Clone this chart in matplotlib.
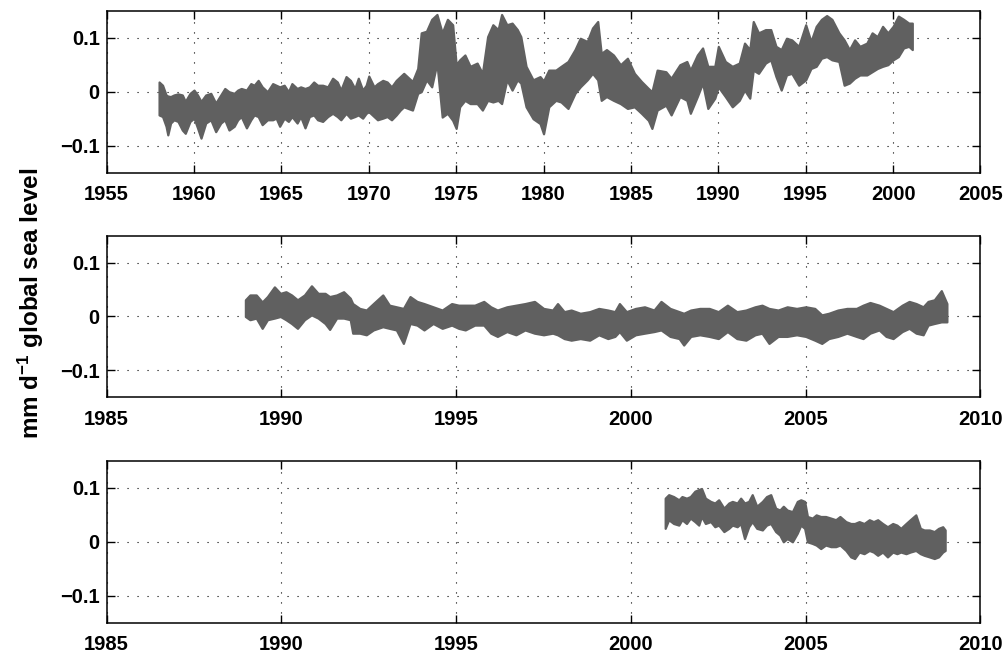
import matplotlib
matplotlib.use('Agg')
import matplotlib.pyplot as plt
from matplotlib.ticker import FixedLocator, FixedFormatter

plt.rcParams['font.family'] = ['Liberation Sans', 'DejaVu Sans']
plt.rcParams['font.weight'] = 'bold'
plt.rcParams['mathtext.fontset'] = 'custom'
plt.rcParams['mathtext.rm'] = 'Liberation Sans:bold'
plt.rcParams['mathtext.bf'] = 'Liberation Sans:bold'
plt.rcParams['mathtext.default'] = 'bf'

# ---------------- data (envelopes) ----------------
# Panel 1: 1958-2001
p1_year = [1958.0, 1958.2, 1958.4, 1958.5, 1958.66, 1958.85, 1959.08, 1959.33, 1959.5, 1959.77,
           1960.0, 1960.2, 1960.4, 1960.67, 1960.96, 1961.24, 1961.53, 1961.76, 1962.0, 1962.3,
           1962.5, 1962.7, 1963.0, 1963.25, 1963.44, 1963.67, 1963.9, 1964.2, 1964.5, 1964.7,
           1964.9, 1965.16, 1965.4, 1965.6, 1965.9, 1966.1, 1966.35, 1966.6, 1966.85, 1967.07,
           1967.36, 1967.65, 1967.93, 1968.2, 1968.4, 1968.7, 1968.95, 1969.2, 1969.4, 1969.65,
           1969.85, 1970.0, 1970.3, 1970.5, 1970.8, 1971.05, 1971.3, 1971.57, 1971.8,
           1972.0, 1972.5, 1972.8, 1973.0, 1973.3, 1973.6, 1973.9,
           1974.2, 1974.5, 1974.8, 1975.0, 1975.2, 1975.5, 1975.8, 1976.2, 1976.5, 1976.8,
           1977.1, 1977.4, 1977.6, 1977.9, 1978.2, 1978.5, 1978.7, 1979.0, 1979.4, 1979.8,
           1980.0, 1980.3, 1980.7, 1981.0, 1981.4, 1981.8, 1982.1, 1982.5, 1982.8, 1983.1,
           1983.3, 1983.6, 1984.0, 1984.4, 1984.8, 1985.2, 1985.6, 1986.0, 1986.2, 1986.5,
           1987.0, 1987.3, 1987.8, 1988.2, 1988.4, 1988.8, 1989.1, 1989.4, 1989.8, 1990.0,
           1990.4, 1990.8, 1991.2, 1991.5, 1991.8, 1992.0, 1992.3, 1992.7, 1993.0, 1993.3,
           1993.6, 1993.9, 1994.2, 1994.6, 1995.0, 1995.3, 1995.6, 1995.9, 1996.2, 1996.5,
           1996.9, 1997.2, 1997.5, 1997.8, 1998.1, 1998.5, 1998.8, 1999.1, 1999.4, 1999.7,
           2000.0, 2000.3, 2000.6, 2000.9, 2001.1]
p1_hi = [0.018, 0.012, -0.006, -0.008, -0.009, -0.006, -0.004, -0.006, -0.018, -0.003,
         0.003, -0.006, -0.018, -0.006, -0.003, -0.021, -0.006, 0.006, 0.000, -0.003,
         0.003, 0.006, 0.003, 0.015, 0.012, 0.021, 0.009, 0.000, 0.015, 0.012,
         0.009, 0.012, 0.000, 0.015, 0.006, 0.009, 0.006, 0.009, 0.018, 0.012,
         0.012, 0.009, 0.025, 0.018, 0.003, 0.028, 0.021, 0.006, 0.025, 0.003,
         0.012, 0.029, 0.009, 0.015, 0.021, 0.018, 0.009, 0.021, 0.028,
         0.034, 0.019, 0.043, 0.109, 0.112, 0.134, 0.143,
         0.109, 0.134, 0.124, 0.050, 0.059, 0.068, 0.047, 0.053, 0.034, 0.102,
         0.124, 0.115, 0.143, 0.124, 0.127, 0.115, 0.102, 0.047, 0.022, 0.028,
         0.020, 0.040, 0.040, 0.047, 0.056, 0.078, 0.099, 0.093, 0.118, 0.130,
         0.071, 0.078, 0.068, 0.050, 0.062, 0.034, 0.019, 0.006, 0.000, 0.040,
         0.037, 0.025, 0.050, 0.056, 0.040, 0.068, 0.081, 0.047, 0.047, 0.084,
         0.056, 0.047, 0.053, 0.090, 0.078, 0.130, 0.109, 0.115, 0.115, 0.084,
         0.078, 0.099, 0.096, 0.084, 0.124, 0.093, 0.121, 0.134, 0.141, 0.134,
         0.109, 0.096, 0.078, 0.096, 0.084, 0.090, 0.109, 0.102, 0.121, 0.109,
         0.121, 0.140, 0.134, 0.127, 0.127]
p1_lo = [-0.043, -0.046, -0.064, -0.080, -0.058, -0.052, -0.055, -0.071, -0.077, -0.055,
         -0.049, -0.067, -0.086, -0.058, -0.052, -0.074, -0.058, -0.052, -0.071, -0.064,
         -0.052, -0.046, -0.067, -0.052, -0.043, -0.046, -0.061, -0.052, -0.052, -0.049,
         -0.064, -0.049, -0.055, -0.046, -0.058, -0.046, -0.067, -0.046, -0.043, -0.052,
         -0.055, -0.046, -0.040, -0.046, -0.052, -0.040, -0.049, -0.046, -0.043, -0.049,
         -0.040, -0.037, -0.046, -0.052, -0.049, -0.046, -0.052, -0.043, -0.034,
         -0.028, -0.034, -0.003, 0.000, 0.022, 0.009, 0.053,
         -0.047, -0.040, -0.053, -0.068, -0.028, -0.016, -0.022, -0.022, -0.034, -0.016,
         -0.019, -0.016, -0.022, 0.022, 0.003, 0.022, 0.016, -0.028, -0.050, -0.059,
         -0.078, -0.028, -0.016, -0.019, -0.031, -0.003, 0.009, 0.022, 0.034, 0.022,
         -0.016, -0.009, -0.016, -0.022, -0.031, -0.028, -0.040, -0.053, -0.068, -0.034,
         -0.025, -0.043, -0.009, -0.016, -0.040, -0.009, 0.016, -0.031, -0.012, 0.009,
         -0.009, -0.028, -0.016, 0.003, -0.012, 0.040, 0.034, 0.053, 0.059, 0.028,
         0.003, 0.031, 0.034, 0.012, 0.022, 0.043, 0.047, 0.062, 0.065, 0.059,
         0.056, 0.012, 0.016, 0.025, 0.031, 0.031, 0.037, 0.043, 0.047, 0.050,
         0.059, 0.065, 0.081, 0.084, 0.078]

# Panel 2: 1989-2009
p2_year = [1988.97, 1989.1, 1989.28, 1989.45, 1989.6, 1989.8, 1989.97, 1990.13, 1990.29, 1990.46,
           1990.66, 1990.86, 1991.05, 1991.25, 1991.38, 1991.58, 1991.78, 1991.97, 1992.04, 1992.24,
           1992.43, 1992.63, 1992.9, 1993.09, 1993.29, 1993.49, 1993.68, 1993.88, 1994.08, 1994.34,
           1994.6, 1994.87, 1995.07, 1995.26, 1995.53, 1995.79, 1995.99, 1996.18, 1996.45, 1996.71,
           1996.97, 1997.24, 1997.5, 1997.76, 1997.9, 1998.09, 1998.29, 1998.55, 1998.82, 1999.08,
           1999.34, 1999.54, 1999.67, 1999.87, 2000.13, 2000.39, 2000.66, 2000.86, 2001.12, 2001.38,
           2001.51, 2001.71, 2001.97, 2002.24, 2002.5, 2002.76, 2003.03, 2003.29, 2003.55, 2003.75,
           2003.95, 2004.21, 2004.47, 2004.74, 2005.0, 2005.26, 2005.46, 2005.66, 2005.92, 2006.18,
           2006.45, 2006.64, 2006.84, 2007.1, 2007.3, 2007.5, 2007.76, 2007.96, 2008.16, 2008.36,
           2008.5, 2008.68, 2008.88, 2009.04]
p2_hi = [0.031, 0.040, 0.040, 0.027, 0.037, 0.055, 0.043, 0.046, 0.040, 0.031,
         0.040, 0.057, 0.043, 0.043, 0.037, 0.040, 0.046, 0.034, 0.024, 0.015,
         0.012, 0.024, 0.040, 0.021, 0.018, 0.015, 0.037, 0.028, 0.024, 0.018,
         0.012, 0.024, 0.021, 0.021, 0.021, 0.028, 0.018, 0.012, 0.018, 0.021,
         0.024, 0.028, 0.015, 0.012, 0.024, 0.009, 0.012, 0.006, 0.009, 0.015,
         0.012, 0.009, 0.024, 0.009, 0.015, 0.018, 0.012, 0.028, 0.015, 0.009,
         0.006, 0.012, 0.015, 0.015, 0.009, 0.021, 0.009, 0.012, 0.018, 0.021,
         0.015, 0.012, 0.018, 0.015, 0.018, 0.015, 0.003, 0.006, 0.012, 0.015,
         0.015, 0.021, 0.026, 0.021, 0.015, 0.009, 0.021, 0.028, 0.024, 0.018,
         0.028, 0.031, 0.048, 0.024]
p2_lo = [0.000, -0.006, -0.003, -0.022, -0.006, -0.003, 0.000, -0.006, -0.013, -0.022,
         -0.006, 0.003, -0.003, -0.013, -0.024, -0.003, -0.003, -0.006, -0.031, -0.031,
         -0.034, -0.025, -0.019, -0.022, -0.025, -0.050, -0.013, -0.016, -0.025, -0.013,
         -0.022, -0.016, -0.022, -0.025, -0.016, -0.016, -0.031, -0.037, -0.028, -0.034,
         -0.025, -0.031, -0.034, -0.031, -0.034, -0.041, -0.044, -0.041, -0.044, -0.034,
         -0.041, -0.037, -0.028, -0.044, -0.034, -0.031, -0.028, -0.025, -0.037, -0.041,
         -0.053, -0.037, -0.034, -0.037, -0.041, -0.028, -0.041, -0.044, -0.034, -0.031,
         -0.050, -0.037, -0.037, -0.034, -0.037, -0.044, -0.050, -0.041, -0.037, -0.031,
         -0.037, -0.041, -0.031, -0.025, -0.037, -0.041, -0.028, -0.022, -0.031, -0.034,
         -0.016, -0.013, -0.010, -0.010]

# Panel 3: 2001-2009
p3_year = [2000.98, 2001.08, 2001.22, 2001.37, 2001.46, 2001.59, 2001.7, 2001.83, 2001.94, 2002.02,
           2002.13, 2002.28, 2002.4, 2002.51, 2002.66, 2002.8, 2002.9, 2003.04, 2003.14, 2003.25,
           2003.37, 2003.47, 2003.6, 2003.76, 2003.88, 2004.0, 2004.14, 2004.26, 2004.36, 2004.47,
           2004.62, 2004.76, 2004.86, 2004.97, 2005.05, 2005.19, 2005.3, 2005.43, 2005.57, 2005.72,
           2005.86, 2005.98, 2006.15, 2006.29, 2006.4, 2006.53, 2006.67, 2006.82, 2006.94, 2007.06,
           2007.2, 2007.34, 2007.49, 2007.61, 2007.72, 2007.87, 2007.99, 2008.15, 2008.28, 2008.39,
           2008.54, 2008.68, 2008.8, 2008.92, 2008.99]
p3_hi = [0.081, 0.0875, 0.084, 0.078, 0.084, 0.081, 0.084, 0.094, 0.097, 0.099,
         0.081, 0.075, 0.072, 0.078, 0.0625, 0.072, 0.075, 0.072, 0.081, 0.072,
         0.075, 0.0875, 0.066, 0.075, 0.084, 0.0875, 0.0625, 0.059, 0.066, 0.059,
         0.056, 0.075, 0.078, 0.075, 0.047, 0.044, 0.050, 0.047, 0.047, 0.044,
         0.041, 0.047, 0.0375, 0.034, 0.034, 0.0375, 0.034, 0.041, 0.0375, 0.041,
         0.034, 0.028, 0.034, 0.031, 0.025, 0.034, 0.041, 0.050, 0.025, 0.022,
         0.022, 0.019, 0.025, 0.028, 0.022]
p3_lo = [0.025, 0.041, 0.034, 0.031, 0.041, 0.034, 0.044, 0.0375, 0.031, 0.047,
         0.034, 0.0375, 0.028, 0.031, 0.019, 0.025, 0.031, 0.028, 0.034, 0.006,
         0.028, 0.0375, 0.025, 0.022, 0.031, 0.034, 0.019, 0.0125, 0.000, 0.006,
         0.000, 0.016, 0.031, 0.025, 0.000, -0.003, -0.006, -0.0125, -0.006, -0.009,
         -0.009, -0.006, -0.016, -0.028, -0.031, -0.019, -0.022, -0.016, -0.019, -0.025,
         -0.019, -0.028, -0.019, -0.022, -0.019, -0.022, -0.019, -0.016, -0.022, -0.025,
         -0.028, -0.031, -0.028, -0.019, -0.016]

p1_xticks = [1955, 1960, 1965, 1970, 1975, 1980, 1985, 1990, 1995, 2000, 2005]
p23_xticks = [1985, 1990, 1995, 2000, 2005, 2010]
yticks = [-0.1, 0, 0.1]
ytick_labels = ['\u22120.1', '0', '0.1']
ylabel = r'mm d$^{-1}$ global sea level'

panels = [
    (p1_year, p1_hi, p1_lo, (1955, 2005), p1_xticks),
    (p2_year, p2_hi, p2_lo, (1985, 2010), p23_xticks),
    (p3_year, p3_hi, p3_lo, (1985, 2010), p23_xticks),
]

# ---------------- figure ----------------
fig = plt.figure(figsize=(10.06, 6.56), dpi=100)
rects = [[0.106, 0.7367, 0.8686, 0.247],
         [0.106, 0.3944, 0.8686, 0.2463],
         [0.106, 0.0508, 0.8686, 0.2465]]
color = '#606060'

for rect, (yr, hi, lo, xlim, xt) in zip(rects, panels):
    ax = fig.add_axes(rect)
    ax.fill_between(yr, lo, hi, color=color, linewidth=1.6, edgecolor=color, zorder=3)
    ax.set_xlim(*xlim)
    ax.set_ylim(-0.15, 0.15)
    ax.xaxis.set_major_locator(FixedLocator(xt))
    ax.xaxis.set_major_formatter(FixedFormatter([str(v) for v in xt]))
    ax.yaxis.set_major_locator(FixedLocator(yticks))
    ax.yaxis.set_major_formatter(FixedFormatter(ytick_labels))
    ax.grid(True, color='black', linestyle=(0, (1, 8)), linewidth=0.8, zorder=1)
    ax.tick_params(direction='in', length=6, width=1.0, top=True, right=True,
                   labelsize=14.5, colors='black')
    ax.tick_params(axis='x', pad=9)
    ax.tick_params(axis='y', pad=5)
    for s in ax.spines.values():
        s.set_linewidth(1.1)
    for lab in ax.get_xticklabels() + ax.get_yticklabels():
        lab.set_fontweight('bold')

fig.text(0.031, 0.537, ylabel, rotation=90, ha='center', va='center',
         fontsize=17.5, fontweight='bold')

fig.savefig('out.png', dpi=100)
